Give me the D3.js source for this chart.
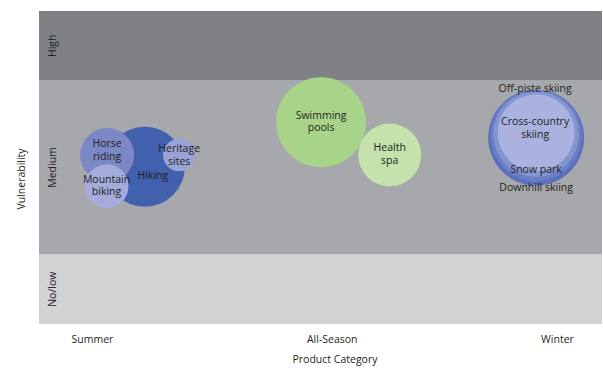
<!DOCTYPE html>
<html><head><meta charset="utf-8">
<script src="https://cdn.jsdelivr.net/npm/d3@7"></script>
<style>
html,body{margin:0;padding:0;background:#fff;}
text{font-family:"Open Sans",sans-serif;fill:#231f20;}
</style></head>
<body><svg id="c" width="603" height="368"></svg>
<script>
// ---- data ----
const categories = ["Summer", "All-Season", "Winter"];
const categoryPos = [9.4, 52, 92];            // position on the product axis (0-100)
const bandNames = ["No/low", "Medium", "High"];
const bandStarts = [0, 1, 3.5];
const bandEnds = [1, 3.5, 4.5];
const bandColors = ["#d1d2d4", "#a7a8ab", "#808185"];

const products = ["Hiking", "Horse riding", "Mountain biking", "Heritage sites",
  "Swimming pools", "Health spa",
  "Downhill skiing", "Snow park", "Off-piste skiing", "Cross-country skiing"];
const productX = [18.8, 12.1, 12.0, 24.9, 50.1, 62.3, 88.3, 88.3, 88.3, 88.3];
const vulnerability = [2.26, 2.43, 1.98, 2.43, 2.90, 2.43, 2.68, 2.71, 2.73, 2.75];
const size = [16, 7.3, 4.8, 2.6, 20.2, 9.9, 23, 21, 18.5, 14.8];
const productColors = ["#4160ad", "#7b88c6", "#a5acdb", "#9aa3d6", "#a8d48a", "#c5e2ad",
  "#5a6fbe", "#6a7ec6", "#8494d0", "#aab2df"];
const labelLines = [["Hiking"], ["Horse", "riding"], ["Mountain", "biking"], ["Heritage", "sites"],
  ["Swimming", "pools"], ["Health", "spa"], ["Downhill skiing"], ["Snow park"], ["Off-piste skiing"],
  ["Cross-country", "skiing"]];
// label anchor offsets in px relative to bubble centre
const labelDX = [8, 0, 0, 0, 0, 0, 0, 0, -1, -1];
const labelDY = [9, -5, -1, 0, -1, -1, 50, 34, -46, -5];

// ---- layout ----
const svg = d3.select("#c");
const m = {l: 39, r: 1, t: 11, b: 44};
const W = 603, H = 368;
const x = d3.scaleLinear().domain([0, 100]).range([m.l, W - m.r]);
const y = d3.scaleLinear().domain([0, 4.5]).range([H - m.b, m.t]);
const r = d3.scaleSqrt().domain([0, 25]).range([0, 50]);

// bands
svg.selectAll("rect.band").data(bandNames).join("rect")
  .attr("class", "band")
  .attr("x", x(0)).attr("width", x(100) - x(0))
  .attr("y", (d, i) => y(bandEnds[i]))
  .attr("height", (d, i) => y(bandStarts[i]) - y(bandEnds[i]))
  .attr("fill", (d, i) => bandColors[i]);

// band labels (y axis)
svg.selectAll("text.band").data(bandNames).join("text")
  .attr("class", "band")
  .attr("transform", (d, i) => `translate(${x(0) + 13},${y((bandStarts[i] + bandEnds[i]) / 2)}) rotate(-90)`)
  .attr("text-anchor", "middle").attr("dominant-baseline", "central")
  .style("font-size", "10.5px")
  .text(d => d);

// bubbles
const idx = d3.range(products.length);
svg.selectAll("circle.b").data(idx).join("circle")
  .attr("class", "b")
  .attr("cx", i => x(productX[i]))
  .attr("cy", i => y(vulnerability[i]))
  .attr("r", i => r(size[i]))
  .attr("fill", i => productColors[i]);

// bubble labels
const lh = 12.5;
const lbl = svg.selectAll("text.lbl").data(idx).join("text")
  .attr("class", "lbl")
  .attr("text-anchor", "middle")
  .style("font-size", "10.5px");
lbl.each(function(i) {
  const t = d3.select(this);
  const lines = labelLines[i];
  const cx = x(productX[i]) + labelDX[i];
  const cy = y(vulnerability[i]) + labelDY[i];
  lines.forEach((s, k) => {
    t.append("tspan")
      .attr("x", cx)
      .attr("y", cy + (k - (lines.length - 1) / 2) * lh)
      .attr("dy", "0.35em")
      .text(s);
  });
});

// x axis category labels
const xAxis = d3.axisBottom(d3.scaleOrdinal().domain(categories).range(categoryPos.map(v => x(v))))
  .tickSize(0).tickPadding(0);
const gx = svg.append("g").attr("transform", `translate(0,${H - m.b + 12})`).call(xAxis);
gx.select(".domain").remove();
gx.selectAll("text").style("font-size", "10.5px").style("font-family", "'Open Sans',sans-serif").attr("fill", "#231f20");

// axis titles
svg.append("text").attr("x", 335).attr("y", 359).attr("text-anchor", "middle")
  .attr("dominant-baseline", "central").style("font-size", "10.5px").text("Product Category");
svg.append("text").attr("transform", "translate(21,179) rotate(-90)").attr("text-anchor", "middle")
  .attr("dominant-baseline", "central").style("font-size", "10.5px").text("Vulnerability");
</script></body></html>
